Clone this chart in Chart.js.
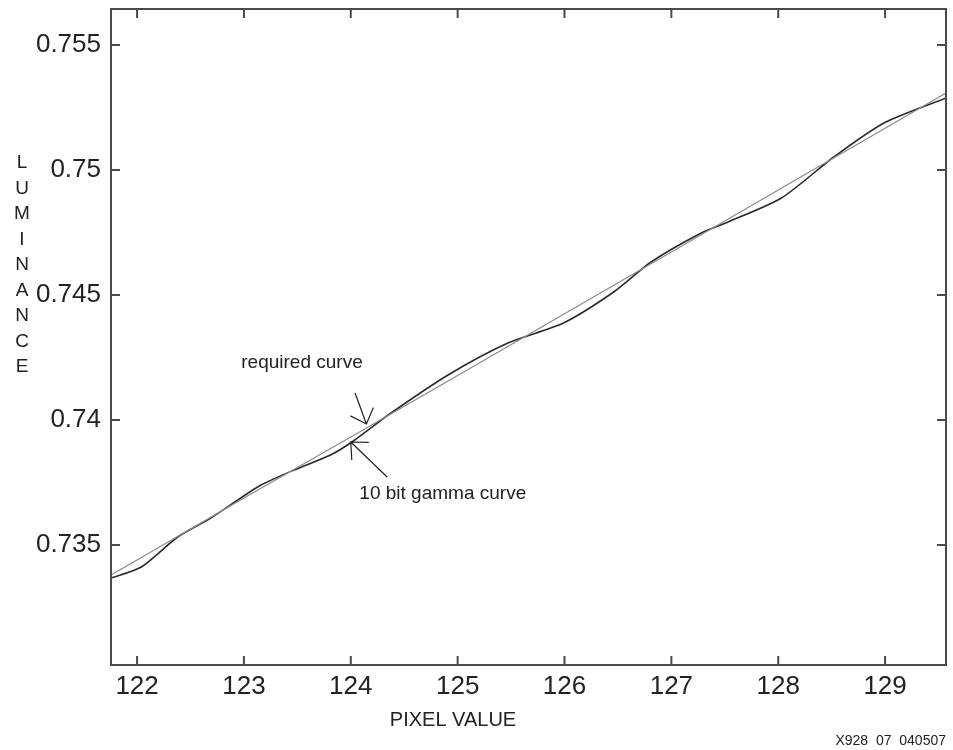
<!DOCTYPE html>
<html>
<head>
<meta charset="utf-8">
<script src="https://cdn.jsdelivr.net/npm/chart.js@4"></script>
<style>
  body { margin: 0; background: #fff; }
  #wrap { width: 953px; height: 750px; }
</style>
</head>
<body>
<div id="wrap"><canvas id="gammaChart" width="953" height="750"></canvas></div>
<script>
// Data
const reqX = [121.756, 122, 123, 124, 125, 126, 127, 128, 129, 129.57];
const reqY = [0.7338, 0.7344, 0.73688, 0.73932, 0.74178, 0.74425, 0.74672, 0.7492, 0.75167, 0.75308];

const gamX = [121.756, 122.04, 122.38, 122.69, 122.97, 123.16, 123.47, 123.81, 124.01, 124.35,
              124.91, 125.47, 125.99, 126.46, 126.81, 127.28, 127.53, 128.03, 128.52, 128.99, 129.57];
const gamY = [0.73368, 0.73412, 0.73532, 0.73608, 0.73688, 0.7374, 0.738, 0.7386, 0.73912, 0.7402,
              0.7418, 0.74308, 0.74388, 0.74512, 0.74632, 0.74748, 0.74792, 0.74888, 0.75052, 0.75188, 0.75288];

const xTicks = [122, 123, 124, 125, 126, 127, 128, 129];
const yTicks = [0.735, 0.74, 0.745, 0.75, 0.755];

const xRange = [121.756, 129.57];
const yRange = [0.7302, 0.75644];

// annotations, in data units: text anchor, arrow tail, arrow tip
const notes = [
  { text: "required curve", at: [122.975, 0.74228], tail: [124.04, 0.74108], tip: [124.146, 0.73984] },
  { text: "10 bit gamma curve", at: [124.08, 0.73704], tail: [124.34, 0.73772], tip: [124.0, 0.73912] }
];

const FONT = "'Liberation Sans', Arial, sans-serif";
const INK = "#222";

function pts(xs, ys) {
  return xs.map((x, i) => ({ x: x, y: ys[i] }));
}

function arrow(ctx, x0, y0, x1, y1) {
  ctx.beginPath();
  ctx.moveTo(x0, y0);
  ctx.lineTo(x1, y1);
  const a = Math.atan2(y0 - y1, x0 - x1);
  const len = 18, spread = 0.75;
  ctx.moveTo(x1 + len * Math.cos(a - spread), y1 + len * Math.sin(a - spread));
  ctx.lineTo(x1, y1);
  ctx.lineTo(x1 + len * Math.cos(a + spread), y1 + len * Math.sin(a + spread));
  ctx.stroke();
}

// frame, inward ticks, axis titles and notes
const decor = {
  id: "decor",
  afterDraw(chart) {
    const { ctx, chartArea: a, scales } = chart;
    const xs = scales.x, ys = scales.y;
    ctx.save();
    ctx.strokeStyle = "#4a4a4a";
    ctx.lineWidth = 2;
    ctx.strokeRect(a.left, a.top, a.right - a.left, a.bottom - a.top);
    ctx.beginPath();
    xTicks.forEach(v => {
      const px = xs.getPixelForValue(v);
      ctx.moveTo(px, a.bottom); ctx.lineTo(px, a.bottom - 9);
      ctx.moveTo(px, a.top); ctx.lineTo(px, a.top + 9);
    });
    yTicks.forEach(v => {
      const py = ys.getPixelForValue(v);
      ctx.moveTo(a.left, py); ctx.lineTo(a.left + 9, py);
      ctx.moveTo(a.right, py); ctx.lineTo(a.right - 9, py);
    });
    ctx.stroke();

    ctx.fillStyle = INK;
    ctx.textAlign = "center";
    ctx.textBaseline = "middle";
    ctx.font = "19px " + FONT;
    "LUMINANCE".split("").forEach((ch, i) => {
      ctx.fillText(ch, 22, 163 + i * 25.5);
    });
    ctx.font = "20px " + FONT;
    ctx.fillText("PIXEL VALUE", 453, 720);
    ctx.font = "14px " + FONT;
    ctx.textAlign = "right";
    ctx.fillText("X928  07  040507", 946, 741);

    // notes
    ctx.strokeStyle = "#222";
    ctx.lineWidth = 1.2;
    ctx.font = "19px " + FONT;
    ctx.textAlign = "left";
    notes.forEach(n => {
      const tx = xs.getPixelForValue(n.at[0]), ty = ys.getPixelForValue(n.at[1]);
      ctx.fillText(n.text, tx, ty);
      arrow(ctx,
        xs.getPixelForValue(n.tail[0]), ys.getPixelForValue(n.tail[1]),
        xs.getPixelForValue(n.tip[0]), ys.getPixelForValue(n.tip[1]));
    });
    ctx.restore();
  }
};

const ctx = document.getElementById("gammaChart").getContext("2d");
new Chart(ctx, {
  type: "scatter",
  data: {
    datasets: [
      {
        label: "required curve",
        data: pts(reqX, reqY),
        showLine: true,
        borderColor: "#8c8c8c",
        borderWidth: 1.3,
        pointRadius: 0,
        tension: 0
      },
      {
        label: "10 bit gamma curve",
        data: pts(gamX, gamY),
        showLine: true,
        borderColor: "#2a2a2a",
        borderWidth: 1.6,
        pointRadius: 0,
        tension: 0.25
      }
    ]
  },
  options: {
    responsive: false,
    animation: false,
    layout: { padding: { top: 9, right: 7, left: 0, bottom: 0 } },
    plugins: {
      legend: { display: false },
      tooltip: { enabled: false }
    },
    scales: {
      x: {
        type: "linear",
        min: xRange[0],
        max: xRange[1],
        afterBuildTicks: s => { s.ticks = xTicks.map(v => ({ value: v })); },
        afterFit: s => { s.height = 85; s.paddingLeft = 0; s.paddingRight = 0; },
        grid: { display: false, drawTicks: false },
        border: { display: false },
        ticks: {
          padding: 6,
          color: INK,
          font: { family: FONT, size: 26 },
          callback: v => String(v)
        }
      },
      y: {
        type: "linear",
        min: yRange[0],
        max: yRange[1],
        afterBuildTicks: s => { s.ticks = yTicks.map(v => ({ value: v })); },
        afterFit: s => { s.width = 111; s.paddingTop = 0; s.paddingBottom = 0; },
        grid: { display: false, drawTicks: false },
        border: { display: false },
        ticks: {
          padding: 10,
          color: INK,
          font: { family: FONT, size: 26 },
          callback: v => String(v)
        }
      }
    }
  },
  plugins: [decor]
});
</script>
</body>
</html>
